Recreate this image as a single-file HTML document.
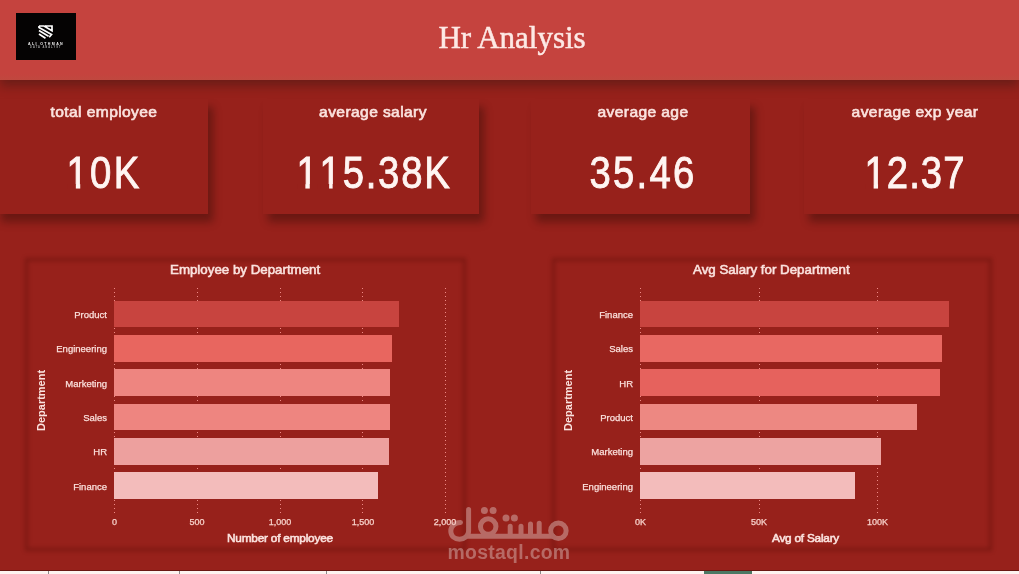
<!DOCTYPE html>
<html><head><meta charset="utf-8">
<style>
*{margin:0;padding:0;box-sizing:border-box}
html,body{width:1019px;height:574px;overflow:hidden}
body{background:#97211b;position:relative;will-change:transform;font-family:"Liberation Sans",sans-serif;color:#fbe3df}
.abs{position:absolute}
#hdr{left:0;top:0;width:1019px;height:80px;background:linear-gradient(to bottom,#c5433e 0,#c5433e 74px,#c0483f 80px);box-shadow:0 6px 10px rgba(30,22,18,.36);z-index:5}
#logo{left:16px;top:13px;width:60px;height:47px;background:#050303}
#title{left:2.5px;top:-2px;width:1019px;text-align:center;font-family:"Liberation Serif",serif;font-size:31px;line-height:80px;color:#fde9e5;z-index:6;-webkit-text-stroke:0.5px #fde9e5}
.one{position:relative}
.one::before,.one::after{content:'';position:absolute;bottom:calc(0.212em - 1.8px);height:calc(0.0747em + 2.4px);background:#97211b}
.one::before{left:calc(0.0762em - 2px);width:calc(0.1753em + 1.55px)}
.one::after{left:calc(0.3398em + 0.45px);width:calc(0.1675em + 1.6px)}
.card{position:absolute;top:99px;height:114.6px;background:#97211b;box-shadow:5px 8px 8px rgba(45,12,8,.42)}
.kt{position:absolute;top:95px;height:118px}
.lbl{position:absolute;left:0;width:100%;text-align:center;font-weight:normal;font-size:14.2px;letter-spacing:0.35px;transform:scaleX(1.1);top:8.5px;-webkit-text-stroke:0.6px #fbe3df;color:#fbe3df;white-space:nowrap}
.val{position:absolute;left:0;width:100%;text-align:center;font-size:43.5px;top:56.8px;transform:scaleX(0.88);letter-spacing:2.6px;-webkit-text-stroke:0.9px #fff5f2;color:#fff5f2;white-space:nowrap;line-height:1}
.chart{position:absolute;top:257.5px;height:293.5px;border:3px solid rgba(70,5,0,.34);filter:blur(2px)}
.ct{position:absolute;font-weight:normal;font-size:12.5px;color:#fbe3df;white-space:nowrap;-webkit-text-stroke:0.55px #fbe3df;transform-origin:0 0;transform:scaleX(1.065);margin-top:0.5px}
.grid{position:absolute;top:288px;width:1px;height:226px;background:repeating-linear-gradient(to bottom,#ee8a86 0 1px,transparent 1px 4px)}
.bar{position:absolute;height:26.5px}
.yl{position:absolute;font-size:9.5px;color:#fbe0dc;text-align:right;white-space:nowrap;line-height:12px;-webkit-text-stroke:0.25px #fbe0dc;margin-top:0.7px}
.tk{position:absolute;font-size:9px;color:#f8d3cc;white-space:nowrap;line-height:12px;transform:translateX(-50%);-webkit-text-stroke:0.25px #f8d3cc;z-index:21}
.dept{position:absolute;font-weight:bold;font-size:11px;color:#fbe3df;white-space:nowrap;transform-origin:0 0;transform:rotate(-90deg)}
#foot{left:0;top:570px;width:1019px;height:4px;background:#fdf3f0;border-top:1px solid #6a1612}
</style></head><body>
<div id="hdr" class="abs"></div>
<div id="title" class="abs">Hr Analysis</div>
<svg id="logo" class="abs" style="z-index:7;will-change:transform" width="60" height="47" viewBox="16 13 60 47">
<rect x="16" y="13" width="60" height="47" fill="#050303"/>
<g fill="none" stroke="#fff" stroke-width="1.7" stroke-linejoin="miter">
<path d="M39,26 L44,26 L52,30.8 L52,26 L45,26"/>
<path d="M39,26 L39,27.6 L51.5,34.5 L49.2,37.2"/>
<path d="M39,30.6 L48.5,36.2"/>
<path d="M39,34 L45.5,38.3"/>
</g>
<text x="46" y="44.9" font-family="Liberation Sans" font-weight="bold" font-size="3.6" fill="#f0f0f0" text-anchor="middle" letter-spacing="1.35">ALI OTHMAN</text>
<text x="45.8" y="48.3" font-family="Liberation Sans" font-weight="bold" font-size="2.6" fill="#a8a8a8" text-anchor="middle" letter-spacing="1.0">DATA ANALYST</text>
</svg>

<div class="card" style="left:-4px;width:212px"></div>
<div class="card" style="left:263px;width:216.2px"></div>
<div class="card" style="left:531px;width:218.6px"></div>
<div class="card" style="left:804.4px;width:220px"></div>
<div class="kt" style="left:-2.5px;width:212px"><div class="lbl">total employee</div><div class="val"><span class="one">1</span>0K</div></div>
<div class="kt" style="left:264.5px;width:216px"><div class="lbl">average salary</div><div class="val" style="letter-spacing:2px;margin-left:1.5px"><span class="one">1</span><span class="one">1</span>5.38K</div></div>
<div class="kt" style="left:533.5px;width:218px"><div class="lbl">average age</div><div class="val">35.46</div></div>
<div class="kt" style="left:804.5px;width:220px"><div class="lbl">average exp year</div><div class="val" style="letter-spacing:1.2px;margin-left:0px"><span class="one">1</span>2.37</div></div>

<div class="chart" style="left:25.3px;width:440.6px"></div>
<div class="chart" style="left:552.2px;width:440.1px"></div>

<!-- chart 1 -->
<div class="ct" style="left:170px;top:262px">Employee by Department</div>
<div class="grid" style="left:114px"></div>
<div class="grid" style="left:197px"></div>
<div class="grid" style="left:280px"></div>
<div class="grid" style="left:362px"></div>
<div class="grid" style="left:445px"></div>
<div class="bar" style="left:114px;top:300.8px;width:285px;background:#c8443f"></div>
<div class="bar" style="left:114px;top:335.1px;width:278px;background:#e8665f"></div>
<div class="bar" style="left:114px;top:369.4px;width:276px;background:#ee8580"></div>
<div class="bar" style="left:114px;top:403.7px;width:276px;background:#ee8580"></div>
<div class="bar" style="left:114px;top:438px;width:275px;background:#eda09e"></div>
<div class="bar" style="left:114px;top:472.3px;width:264px;background:#f3bcbb"></div>
<div class="yl" style="right:912px;top:308px">Product</div>
<div class="yl" style="right:912px;top:342px">Engineering</div>
<div class="yl" style="right:912px;top:377px">Marketing</div>
<div class="yl" style="right:912px;top:411px">Sales</div>
<div class="yl" style="right:912px;top:445px">HR</div>
<div class="yl" style="right:912px;top:480px">Finance</div>
<div class="tk" style="left:114.5px;top:516px">0</div>
<div class="tk" style="left:197px;top:516px">500</div>
<div class="tk" style="left:280px;top:516px">1,000</div>
<div class="tk" style="left:363px;top:516px">1,500</div>
<div class="tk" style="left:445px;top:516px">2,000</div>
<div class="ct" style="left:227px;top:531px;font-size:11px;letter-spacing:-0.2px;transform:scaleX(1.075)">Number of employee</div>
<div class="dept" style="left:35.3px;top:431px">Department</div>

<!-- chart 2 -->
<div class="ct" style="left:693px;top:262px">Avg Salary for Department</div>
<div class="grid" style="left:640px"></div>
<div class="grid" style="left:759px"></div>
<div class="grid" style="left:877px"></div>
<div class="bar" style="left:640.3px;top:300.8px;width:308.4px;background:#c8443f"></div>
<div class="bar" style="left:640.3px;top:335.1px;width:301.5px;background:#e86862"></div>
<div class="bar" style="left:640.3px;top:369.4px;width:299.5px;background:#e6625d"></div>
<div class="bar" style="left:640.3px;top:403.7px;width:276.7px;background:#ed8882"></div>
<div class="bar" style="left:640.3px;top:438px;width:240.6px;background:#eda3a1"></div>
<div class="bar" style="left:640.3px;top:472.3px;width:214.9px;background:#f3bcbb"></div>
<div class="yl" style="right:386px;top:308px">Finance</div>
<div class="yl" style="right:386px;top:342px">Sales</div>
<div class="yl" style="right:386px;top:377px">HR</div>
<div class="yl" style="right:386px;top:411px">Product</div>
<div class="yl" style="right:386px;top:445px">Marketing</div>
<div class="yl" style="right:386px;top:480px">Engineering</div>
<div class="tk" style="left:640.5px;top:516px">0K</div>
<div class="tk" style="left:759px;top:516px">50K</div>
<div class="tk" style="left:877.5px;top:516px">100K</div>
<div class="ct" style="left:772px;top:531px;font-size:11px;letter-spacing:-0.2px;transform:scaleX(1.07)">Avg of Salary</div>
<div class="dept" style="left:561.5px;top:431px">Department</div>

<div id="foot" class="abs"></div>
<div class="abs" style="left:48px;top:571px;width:1px;height:3px;background:#8a8a8a"></div>
<div class="abs" style="left:179px;top:571px;width:1px;height:3px;background:#8a8a8a"></div>
<div class="abs" style="left:326px;top:571px;width:1px;height:3px;background:#8a8a8a"></div>
<div class="abs" style="left:540px;top:571px;width:1px;height:3px;background:#8a8a8a"></div>
<div class="abs" style="left:704px;top:571px;width:48px;height:3px;background:#4b7864"></div>
<svg class="abs" style="left:0;top:0;z-index:20;pointer-events:none" width="1019" height="574" viewBox="0 0 1019 574">
<g opacity="0.5">
<g fill="none" stroke="#d8b4b0" stroke-width="5" stroke-linecap="round" stroke-linejoin="round">
<path d="M460.5,522.4 C455,522.2 450.8,526.5 450.8,531 C450.8,536 454.5,539.2 459.5,539.2 C464.5,539.2 468.6,535.5 468.6,531 L468.6,509.5 M468.6,536.2 L553,536.2 M510.2,526.2 L510.2,536 M521,526.2 L521,536 M530.5,524 L530.5,536 M539.2,523.3 L539.2,536"/>
<circle cx="488.2" cy="526.6" r="7.75"/>
<circle cx="558.4" cy="530.8" r="7.75"/>
</g>
<g fill="#d8b4b0">
<circle cx="484.4" cy="510.6" r="3.5"/><circle cx="493.1" cy="510.6" r="3.5"/>
<circle cx="506" cy="517.9" r="3.5"/><circle cx="514.4" cy="517.9" r="3.5"/>
<text x="447.5" y="558.8" font-family="Liberation Sans" font-weight="bold" font-size="19.4" letter-spacing="0.3">mostaql.com</text>
</g>
</g>
</svg>
</body></html>
